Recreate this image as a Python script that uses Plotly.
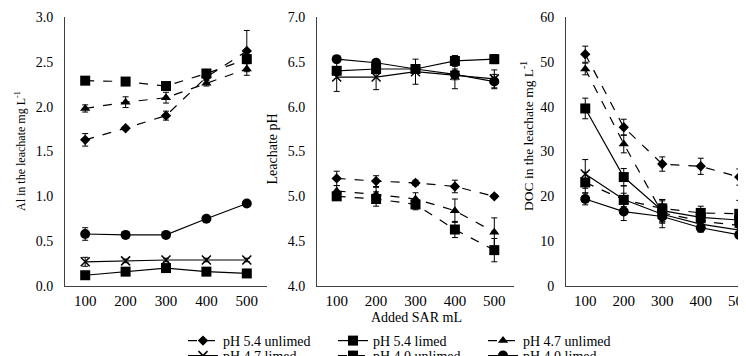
import plotly.graph_objects as go

W, H = 746, 356
OFF = 8  # page offset of the figure (body margin)
FONT = "Liberation Serif, Times New Roman, serif"

sar_ml = [100, 200, 300, 400, 500]
series_names = ["pH 5.4 unlimed", "pH 5.4 limed", "pH 4.7 unlimed",
                "pH 4.7 limed", "pH 4.0 unlimed", "pH 4.0 limed"]

al_54_unlimed = [1.63, 1.76, 1.90, 2.33, 2.62]
al_54_limed = [0.12, 0.16, 0.20, 0.16, 0.14]
al_47_unlimed = [1.98, 2.05, 2.10, 2.26, 2.42]
al_47_limed = [0.27, 0.28, 0.29, 0.29, 0.29]
al_40_unlimed = [2.29, 2.28, 2.23, 2.37, 2.53]
al_40_limed = [0.58, 0.57, 0.57, 0.75, 0.92]
al_err = [
    [0.07, 0.02, 0.05, 0.03, 0.23],
    [0.02, 0.02, 0.03, 0.02, 0.02],
    [0.04, 0.06, 0.06, 0.03, 0.07],
    [0.05, 0.02, 0.02, 0.02, 0.02],
    [0.02, 0.02, 0.04, 0.03, 0.05],
    [0.07, 0.02, 0.02, 0.02, 0.02],
]

ph_54_unlimed = [5.20, 5.17, 5.15, 5.11, 5.00]
ph_54_limed = [6.40, 6.42, 6.42, 6.51, 6.53]
ph_47_unlimed = [5.06, 5.02, 4.97, 4.84, 4.60]
ph_47_limed = [6.33, 6.33, 6.39, 6.35, 6.31]
ph_40_unlimed = [5.00, 4.97, 4.91, 4.63, 4.40]
ph_40_limed = [6.53, 6.49, 6.42, 6.36, 6.28]
ph_err = [
    [0.08, 0.06, 0.03, 0.07, 0.02],
    [0.03, 0.03, 0.05, 0.06, 0.05],
    [0.06, 0.08, 0.07, 0.13, 0.16],
    [0.16, 0.14, 0.14, 0.15, 0.10],
    [0.03, 0.08, 0.06, 0.09, 0.13],
    [0.02, 0.03, 0.03, 0.06, 0.08],
]

doc_54_unlimed = [51.7, 35.4, 27.2, 26.7, 24.3]
doc_54_limed = [39.6, 24.3, 16.8, 15.3, 14.7]
doc_47_unlimed = [48.4, 31.7, 16.3, 14.5, 13.5]
doc_47_limed = [25.0, 19.3, 16.0, 13.8, 12.5]
doc_40_unlimed = [23.1, 19.2, 17.3, 16.3, 16.1]
doc_40_limed = [19.4, 16.6, 15.5, 13.0, 11.4]
doc_err = [
    [1.8, 1.8, 1.6, 1.8, 1.8],
    [2.3, 1.9, 2.5, 1.5, 1.5],
    [1.3, 2.0, 2.0, 1.5, 1.5],
    [3.2, 3.0, 3.0, 1.5, 1.5],
    [2.3, 1.5, 2.0, 1.5, 3.0],
    [1.3, 2.0, 1.5, 1.0, 0.8],
]

al_vals = [al_54_unlimed, al_54_limed, al_47_unlimed, al_47_limed, al_40_unlimed, al_40_limed]
ph_vals = [ph_54_unlimed, ph_54_limed, ph_47_unlimed, ph_47_limed, ph_40_unlimed, ph_40_limed]
doc_vals = [doc_54_unlimed, doc_54_limed, doc_47_unlimed, doc_47_limed, doc_40_unlimed, doc_40_limed]

styles = [
    dict(symbol="diamond", size=8, dash="dash"),
    dict(symbol="square", size=10, dash="solid"),
    dict(symbol="triangle-up", size=9, dash="dash"),
    dict(symbol="x-thin", size=9, dash="solid"),
    dict(symbol="square", size=10, dash="dash"),
    dict(symbol="circle", size=10, dash="solid"),
]

fig = go.Figure()
panels = [(al_vals, al_err, "x", "y"), (ph_vals, ph_err, "x2", "y2"), (doc_vals, doc_err, "x3", "y3")]
for p, (vals, errs, xa, ya) in enumerate(panels):
    for i, name in enumerate(series_names):
        st = styles[i]
        if st["symbol"] == "x-thin":
            marker = dict(symbol="x-thin", size=st["size"], color="black",
                          line=dict(color="black", width=1.5))
        else:
            marker = dict(symbol=st["symbol"], size=st["size"], color="black",
                          line=dict(width=0))
        fig.add_trace(go.Scatter(
            x=sar_ml, y=vals[i], name=name, mode="lines+markers",
            xaxis=xa, yaxis=ya,
            line=dict(color="black", width=1.2, dash=st["dash"]),
            marker=marker,
            error_y=dict(type="data", array=errs[i], visible=True,
                         color="black", thickness=1, width=3),
            showlegend=(p == 0),
            legend="legend" if i < 3 else "legend2",
        ))

def px_x(v):
    return (v - OFF) / W

def px_y(v):
    return (H - (v - OFF)) / H

ydom = [px_y(286), px_y(17)]
axis_common = dict(showgrid=False, zeroline=False, showline=True,
                   linecolor="#404040", linewidth=1, ticks="",
                   automargin=False)
xtick = dict(tickvals=sar_ml, ticktext=[str(v) for v in sar_ml],
             tickfont=dict(family=FONT, size=15, color="black"),
             ticklabelstandoff=1)
ytickfont = dict(family=FONT, size=14, color="black")

# panel 3 continues past the window edge
x3_left = 566
x3_range_end = 50 + (W + OFF - x3_left) / 192.5 * 500

legend_common = dict(orientation="h", x=px_x(183), xanchor="left", yanchor="middle",
                     entrywidth=105, entrywidthmode="pixels", itemwidth=30,
                     font=dict(family=FONT, size=14, color="black"),
                     bgcolor="rgba(0,0,0,0)")

fig.update_layout(
    width=W, height=H,
    margin=dict(l=0, r=0, t=0, b=0, autoexpand=False),
    paper_bgcolor="white", plot_bgcolor="white",
    font=dict(family=FONT, color="black"),
    xaxis=dict(domain=[px_x(65), px_x(267)], range=[50, 550], anchor="y", **axis_common, **xtick),
    xaxis2=dict(domain=[px_x(317), px_x(514)], range=[50, 550], anchor="y2", **axis_common, **xtick),
    xaxis3=dict(domain=[px_x(x3_left), 1.0], range=[50, x3_range_end], anchor="y3", **axis_common, **xtick),
    yaxis=dict(domain=ydom, range=[0, 3.0], dtick=0.5, tickformat=".1f", anchor="x",
               tickfont=ytickfont, ticklabelstandoff=8, **axis_common),
    yaxis2=dict(domain=ydom, range=[4.0, 7.0], dtick=0.5, tickformat=".1f", anchor="x2",
                tickfont=ytickfont, ticklabelstandoff=8, **axis_common),
    yaxis3=dict(domain=ydom, range=[0, 60], dtick=10, anchor="x3",
                tickfont=ytickfont, ticklabelstandoff=8, **axis_common),
    legend=dict(y=px_y(341), **legend_common),
    legend2=dict(y=px_y(356), **legend_common),
    annotations=[
        dict(text="Al in the leachate mg L<sup>-1</sup>", textangle=-90, xref="paper", yref="paper",
             x=px_x(20), y=px_y(213), xanchor="center", yanchor="bottom", showarrow=False,
             font=dict(family=FONT, size=12, color="black")),
        dict(text="Leachate pH", textangle=-90, xref="paper", yref="paper",
             x=px_x(272), y=px_y(187), xanchor="center", yanchor="bottom", showarrow=False,
             font=dict(family=FONT, size=14, color="black")),
        dict(text="DOC in the leachate mg L<sup>-1</sup>", textangle=-90, xref="paper", yref="paper",
             x=px_x(527), y=px_y(213), xanchor="center", yanchor="bottom", showarrow=False,
             font=dict(family=FONT, size=13.5, color="black")),
        dict(text="Added SAR mL", xref="paper", yref="paper",
             x=px_x(416), y=px_y(317), xanchor="center", yanchor="middle", showarrow=False,
             font=dict(family=FONT, size=14, color="black")),
    ],
)

fig.write_html("out.html")
